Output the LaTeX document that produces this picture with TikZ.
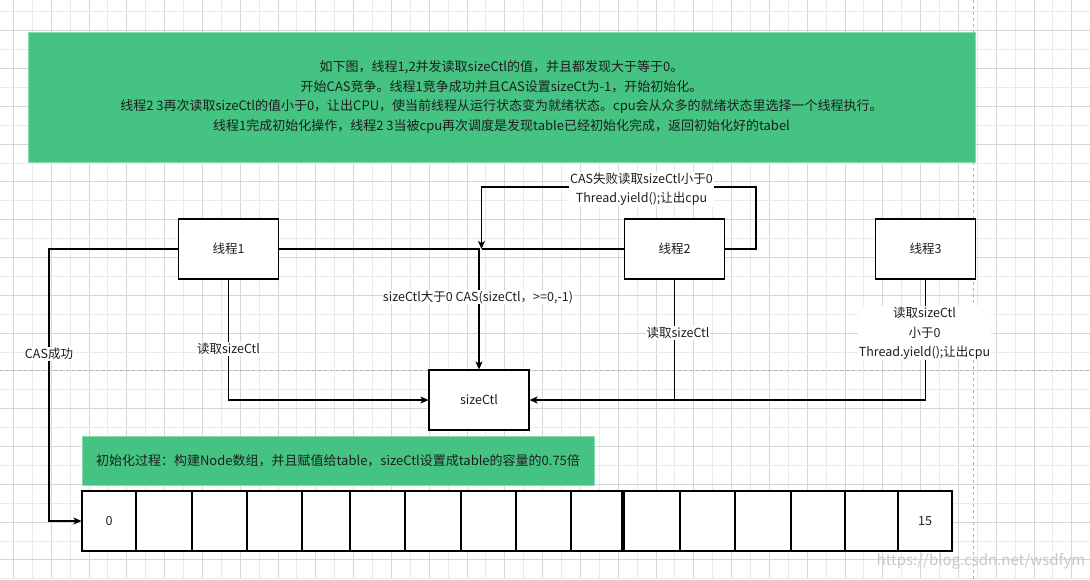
\documentclass[tikz,border=0pt]{standalone}
\usepackage{fontspec}
\setmainfont{Noto Sans CJK SC}
\usetikzlibrary{arrows.meta}
\definecolor{gridA}{HTML}{D6D6D6}
\definecolor{gridB}{HTML}{EAEAEA}
\definecolor{pgbrk}{HTML}{B4B4B4}
\definecolor{greenfill}{HTML}{44C383}
\definecolor{greenline}{HTML}{86DAAF}
\definecolor{txt}{HTML}{1E1E1E}
\begin{document}
\begin{tikzpicture}[x=1pt,y=-1pt,
  txtfont/.style={font=\fontsize{12.5}{19.2}\selectfont, text=txt},
  gfont/.style={font=\fontsize{13}{19.4}\selectfont, text=txt},
  box/.style={draw=black, line width=1.1pt, fill=white, minimum width=100pt, minimum height=60pt, inner sep=0pt, txtfont},
  cellbox/.style={draw=black, line width=1.1pt, fill=white, minimum height=60pt, inner sep=0pt, txtfont},
  gbox/.style={draw=greenline, line width=0.8pt, fill=greenfill, inner sep=0pt, align=center, gfont},
  lbl/.style={fill=white, inner sep=1pt, align=center, txtfont},
  conn/.style={draw=black, line width=1.1pt, -{Stealth[length=8pt,width=7pt,inset=2pt]}},
  plain/.style={draw=black, line width=1.1pt},
  pb/.style={draw=pgbrk, line width=0.8pt, dash pattern=on 3pt off 3pt}
]
\useasboundingbox (0,0) rectangle (1090,579);
\fill[white] (0,0) rectangle (1090,579);
% grid
\foreach \k in {0,...,57}{
  \pgfmathparse{mod(\k,2)==0 ? "gridA" : "gridB"}
  \edef\gc{\pgfmathresult}
  \draw[draw=\gc, line width=0.8pt] ({13.3+18.9*\k},0) -- ({13.3+18.9*\k},579);
}
\foreach \k in {0,...,30}{
  \pgfmathparse{mod(\k,2)==1 ? "gridA" : "gridB"}
  \edef\gc{\pgfmathresult}
  \draw[draw=\gc, line width=0.8pt] (0,{11.7+18.9*\k}) -- (1090,{11.7+18.9*\k});
}
% page breaks
\draw[pb] (0,370.3) -- (1090,370.3);
\draw[pb] (973.3,0) -- (973.3,579);

% top description
\node[gbox, minimum width=947pt, minimum height=130pt] (desc) at (501.5,97) {如下图，线程1,2并发读取sizeCtl的值，并且都发现大于等于0。\\开始CAS竞争。线程1竞争成功并且CAS设置sizeCt为-1，开始初始化。\\线程2 3再次读取sizeCtl的值小于0，让出CPU，使当前线程从运行状态变为就绪状态。cpu会从众多的就绪状态里选择一个线程执行。\\线程1完成初始化操作，线程2 3当被cpu再次调度是发现table已经初始化完成，返回初始化好的tabel};

% threads and sizeCtl
\node[box] (t1) at (228.5,249) {线程1};
\node[box] (t2) at (674.5,249) {线程2};
\node[box] (t3) at (925.5,249) {线程3};
\node[box] (sc) at (479,400) {sizeCtl};

% init box
\node[gbox, minimum width=512pt, minimum height=49pt] (init) at (338,460.5) {初始化过程：构建Node数组，并且赋值给table，sizeCtl设置成table的容量的0.75倍};

% array cells
\node[cellbox, minimum width=54pt] (c0) at (109,521) {0};
\node[cellbox, minimum width=56pt] (c1) at (164,521) {};
\node[cellbox, minimum width=55pt] (c2) at (219.5,521) {};
\node[cellbox, minimum width=55pt] (c3) at (274.5,521) {};
\node[cellbox, minimum width=48pt] (c4) at (326,521) {};
\node[cellbox, minimum width=55pt] (c5) at (377.5,521) {};
\node[cellbox, minimum width=56pt] (c6) at (433,521) {};
\node[cellbox, minimum width=55pt] (c7) at (488.5,521) {};
\node[cellbox, minimum width=55pt] (c8) at (543.5,521) {};
\node[cellbox, minimum width=51pt] (c9) at (596.5,521) {};
\node[cellbox, minimum width=56pt] (c10) at (652,521) {};
\node[cellbox, minimum width=55pt] (c11) at (707.5,521) {};
\node[cellbox, minimum width=56pt] (c12) at (763,521) {};
\node[cellbox, minimum width=54pt] (c13) at (818,521) {};
\node[cellbox, minimum width=53pt] (c14) at (871.5,521) {};
\node[cellbox, minimum width=54pt] (c15) at (925,521) {15};

% junction coordinates
\coordinate (j1) at (481.5,249);
\coordinate (lp) at (756,249);
\coordinate (lt) at (481.5,187);
\coordinate (cl) at (49,249);

% connectors
\draw[conn] (t1.west) -- (cl) |- (c0.west);
\draw[conn] (t1.south) |- (sc.west);
\draw[conn] (t1.east) -| (sc.north);
\draw[plain] (t2.west) -- (j1);
\draw[conn] (t2.east) -- (lp) |- (lt) -- (j1);
\draw[plain] (t2.south) -- (t2.south |- sc.east);
\draw[conn] (t3.south) |- (sc.east);

% labels
\node[lbl] (l1) at (49,354) {CAS成功};
\node[lbl] (l2) at (228.5,349) {读取sizeCtl};
\node[lbl] (l3) at (478,297) {sizeCtl大于0 CAS(sizeCtl，>=0,-1)};
\node[lbl] (l4) at (641.5,189) {CAS失败读取sizeCtl小于0\\Thread.yield();让出cpu};
\node[lbl] (l5) at (678,333) {读取sizeCtl};
\node[lbl] (l6) at (924.5,333.3) {读取sizeCtl\\小于0\\Thread.yield();让出cpu};

% watermark
\node[font=\fontsize{15}{15}\selectfont, text=black!22] (wm) at (981,561) {https://blog.csdn.net/wsdfym};
\end{tikzpicture}
\end{document}
